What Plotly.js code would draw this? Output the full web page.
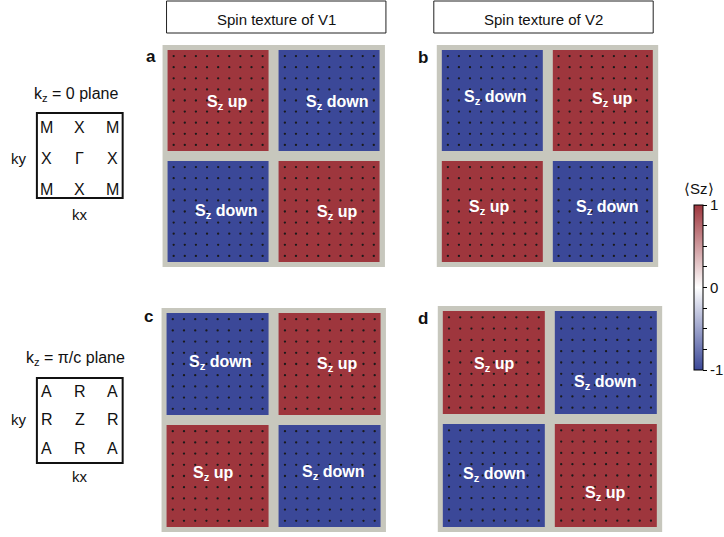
<!DOCTYPE html>
<html>
<head>
<meta charset="utf-8">
<script src="https://cdn.plot.ly/plotly-3.0.1.min.js"></script>
<style>html,body{margin:0;padding:0;background:#fff;}#chart{width:724px;height:537px;}</style>
</head>
<body>
<div id="chart"></div>
<script>
// ---- data ----
// <Sz> sign of each quadrant, rows top->bottom, columns left->right
const szV1_kz0  = [[1, -1], [-1, 1]];   // panel a
const szV2_kz0  = [[-1, 1], [1, -1]];   // panel b
const szV1_kzpi = [[-1, 1], [1, -1]];   // panel c
const szV2_kzpi = [[1, -1], [-1, 1]];   // panel d
const quadX = [0, 1];
const quadY = [0, 1];
// k-point mesh (dots) along each direction
const meshK = [-0.4, -0.3, -0.2, -0.1, 0, 0.1, 0.2, 0.3, 0.4, 0.6, 0.7, 0.8, 0.9, 1.0, 1.1, 1.2, 1.3, 1.4];
const labelsA = ["S<sub>z</sub> up", "S<sub>z</sub> down", "S<sub>z</sub> down", "S<sub>z</sub> up"];
const labelsB = ["S<sub>z</sub> down", "S<sub>z</sub> up", "S<sub>z</sub> up", "S<sub>z</sub> down"];
const labelsC = ["S<sub>z</sub> down", "S<sub>z</sub> up", "S<sub>z</sub> up", "S<sub>z</sub> down"];
const labelsD = ["S<sub>z</sub> up", "S<sub>z</sub> down", "S<sub>z</sub> down", "S<sub>z</sub> up"];
const colTitles = ["Spin texture of V1", "Spin texture of V2"];
const panelLetters = ["a", "b", "c", "d"];
const planeTitles = ["k<sub>z</sub> = 0 plane", "k<sub>z</sub> = π/c plane"];
const gridKz0  = [["M", "X", "M"], ["X", "Γ", "X"], ["M", "X", "M"]];
const gridKzPi = [["A", "R", "A"], ["R", "Z", "R"], ["A", "R", "A"]];
const cbTitle = "⟨Sz⟩";
const cbTicks = [-1, -0.75, -0.5, -0.25, 0, 0.25, 0.5, 0.75, 1];
const cbLabels = ["-1", "", "", "", "0", "", "", "", "1"];

// ---- styling ----
const W = 724, H = 537;
const FONT = "Liberation Sans, Arial, Helvetica, sans-serif";
const RED = "#9e363d", BLUE = "#3b4898", GRAYBG = "#c7c7bd";
const cscale = [[0, BLUE], [0.5, "#ffffff"], [1, RED]];
const px = x => x / W;
const py = y => 1 - y / H;

const panels = [
  {z: szV1_kz0,  labels: labelsA, dom: [163, 386, 45, 267],
   lp: [[0.08, 0.02], [1.07, 0.02], [0.07, 1.0], [1.07, 1.01]]},
  {z: szV2_kz0,  labels: labelsB, dom: [438, 660, 45, 267],
   lp: [[0.03, -0.03], [1.08, -0.01], [-0.03, 0.96], [1.04, 0.96]]},
  {z: szV1_kzpi, labels: labelsC, dom: [162, 387, 308, 532],
   lp: [[0.02, -0.01], [1.06, 0.0], [-0.04, 0.98], [1.03, 0.97]]},
  {z: szV2_kzpi, labels: labelsD, dom: [439, 664, 306, 532],
   lp: [[0.0, 0.02], [0.99, 0.18], [0.0, 0.99], [0.99, 1.16]]}
];

const dotX = [], dotY = [];
meshK.forEach(yy => meshK.forEach(xx => { dotX.push(xx); dotY.push(yy); }));

const data = [];
const layout = {
  width: W, height: H,
  margin: {l: 0, r: 0, t: 0, b: 0},
  paper_bgcolor: "#ffffff",
  plot_bgcolor: GRAYBG,
  showlegend: false,
  font: {family: FONT, color: "#111"},
  annotations: [],
  shapes: []
};

panels.forEach((p, i) => {
  const sfx = i === 0 ? "" : String(i + 1);
  const xa = "x" + sfx, ya = "y" + sfx;
  data.push({
    type: "heatmap", x: quadX, y: quadY, z: p.z,
    xaxis: xa, yaxis: ya,
    colorscale: cscale, zmin: -1, zmax: 1,
    xgap: 10, ygap: 10,
    hoverinfo: "skip",
    showscale: i === 0,
    colorbar: {
      x: px(696), xanchor: "left", xpad: 0,
      y: py(287.5), yanchor: "middle", ypad: 0,
      len: 165 / H, lenmode: "fraction",
      thickness: 9, thicknessmode: "pixels",
      outlinewidth: 1, outlinecolor: "#000",
      tickmode: "array", tickvals: cbTicks, ticktext: cbLabels,
      ticks: "outside", ticklen: 4, tickcolor: "#000",
      tickfont: {family: FONT, size: 15, color: "#111"},
      title: {text: ""}
    }
  });
  data.push({
    type: "scatter", mode: "markers", x: dotX, y: dotY,
    xaxis: xa, yaxis: ya, hoverinfo: "skip",
    marker: {size: 2.3, color: "#1a1a1a"}
  });
  const d = p.dom;
  layout["xaxis" + sfx] = {domain: [px(d[0]), px(d[1])], range: [-0.5, 1.5],
    visible: false, fixedrange: true, anchor: ya};
  layout["yaxis" + sfx] = {domain: [py(d[3]), py(d[2])], range: [1.5, -0.5],
    visible: false, fixedrange: true, anchor: xa};
  p.labels.forEach((t, j) => {
    layout.annotations.push({
      xref: xa, yref: ya, x: p.lp[j][0], y: p.lp[j][1], text: "<b>" + t + "</b>",
      showarrow: false, font: {family: FONT, size: 16, color: "#ffffff"}
    });
  });
});

function paperText(text, x, y, size, opts) {
  layout.annotations.push(Object.assign({
    xref: "paper", yref: "paper", x: px(x), y: py(y), text: text,
    showarrow: false, xanchor: "center", yanchor: "middle",
    font: {family: FONT, size: size, color: "#111"}
  }, opts || {}));
}

// colorbar title
paperText(cbTitle, 701, 188, 15);

// column title boxes
[[167, 387], [435, 655]].forEach((b, i) => {
  layout.shapes.push({type: "rect", xref: "paper", yref: "paper",
    x0: px(b[0]), x1: px(b[1]), y0: py(1), y1: py(33),
    line: {color: "#222", width: 1}, fillcolor: "rgba(0,0,0,0)"});
  paperText(colTitles[i], (b[0] + b[1]) / 2, 19, 15);
});

// panel letters
[[151, 56], [424, 57], [149, 316], [424, 318]].forEach((p, i) => {
  paperText("<b>" + panelLetters[i] + "</b>", p[0], p[1], 17);
});

// BZ schematics
const schem = [
  {title: planeTitles[0], grid: gridKz0, ty: 95, box: [37, 123, 113, 198], rows: [128, 159, 189], kx: 214, ky: 159},
  {title: planeTitles[1], grid: gridKzPi, ty: 358, box: [37, 123, 378, 463], rows: [391, 419, 448], kx: 476, ky: 419}
];
schem.forEach(s => {
  paperText(s.title, 76, s.ty, 16);
  layout.shapes.push({type: "rect", xref: "paper", yref: "paper",
    x0: px(s.box[0]), x1: px(s.box[1]), y0: py(s.box[2]), y1: py(s.box[3]),
    line: {color: "#111", width: 2}, fillcolor: "rgba(0,0,0,0)"});
  const cols = [47, 80, 113];
  s.grid.forEach((row, r) => row.forEach((lab, c) => {
    paperText(lab, cols[c], s.rows[r], 16);
  }));
  paperText("kx", 80, s.kx, 15);
  paperText("ky", 19, s.ky, 15);
});

Plotly.newPlot("chart", data, layout, {displayModeBar: false, staticPlot: true});
</script>
</body>
</html>
